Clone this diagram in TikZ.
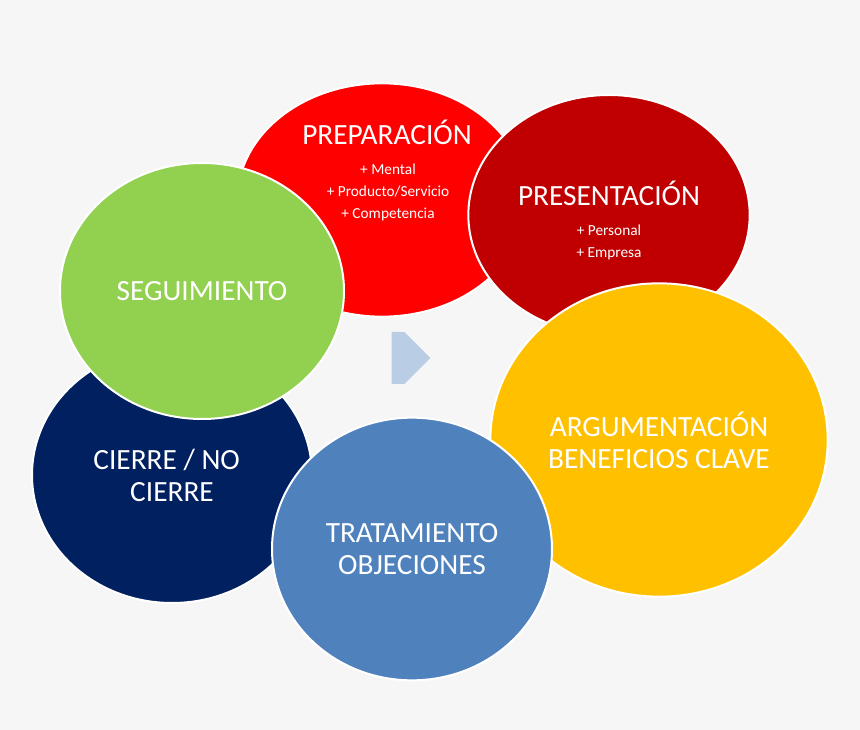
\documentclass[tikz,border=0pt]{standalone}
\usepackage{fontspec}
\setmainfont{Carlito}
\usetikzlibrary{shapes.geometric,shapes.arrows}
\definecolor{bgray}{RGB}{246,246,246}
\definecolor{myred}{RGB}{255,0,0}
\definecolor{mydarkred}{RGB}{192,0,0}
\definecolor{myyellow}{RGB}{255,192,0}
\definecolor{mynavy}{RGB}{0,32,96}
\definecolor{myblue}{RGB}{79,129,189}
\definecolor{mygreen}{RGB}{146,208,80}
\definecolor{myarrow}{RGB}{185,205,229}
\begin{document}
\begin{tikzpicture}[x=0.75pt,y=-0.75pt,
        stage/.style={
            ellipse, draw=white, line width=1.5pt,
            text=white, align=center, font=\fontsize{22}{24}\selectfont
        },
        item/.style={text=white, align=center, font=\fontsize{11.5}{16.5}\selectfont}
      ]

  \fill[bgray] (0,0) rectangle (860,730);
  \useasboundingbox (0,0) rectangle (860,730);

  \node[stage, fill=myred, minimum width=217pt, minimum height=175pt] (prep) at (382,200) {};
  \node[stage, fill=mydarkred, minimum width=211pt, minimum height=180pt] (pres) at (609,215) {};
  \node[stage, fill=myyellow, minimum width=253pt, minimum height=235pt] (arg) at (659,440) {ARGUMENTACIÓN\\BENEFICIOS CLAVE};
  \node[stage, fill=mynavy, minimum width=210pt, minimum height=192pt] (cierre) at (172,475) {\hspace*{-8pt}CIERRE / NO\\CIERRE};
  \node[stage, fill=myblue, minimum width=210pt, minimum height=197pt] (trat) at (412,549) {TRATAMIENTO\\OBJECIONES};
  \node[stage, fill=mygreen, minimum width=213pt, minimum height=192pt] (seg) at (202,291) {SEGUIMIENTO};

  % texts of the top circles
  \node[text=white, font=\fontsize{22}{24}\selectfont] (prepT) at (387,132) {PREPARACIÓN};
  \node[item] (prepI) at (388,192) {+ Mental\\+ Producto/Servicio\\+ Competencia};
  \node[text=white, font=\fontsize{22}{24}\selectfont] (presT) at (609,193) {PRESENTACIÓN};
  \node[item] (presI) at (609,242) {+ Personal\\+ Empresa};

  \node[single arrow, fill=myarrow, minimum width=39pt, minimum height=29pt,
        single arrow head extend=0pt, inner sep=0pt] (flow) at (398,358) {};

\end{tikzpicture}
\end{document}
